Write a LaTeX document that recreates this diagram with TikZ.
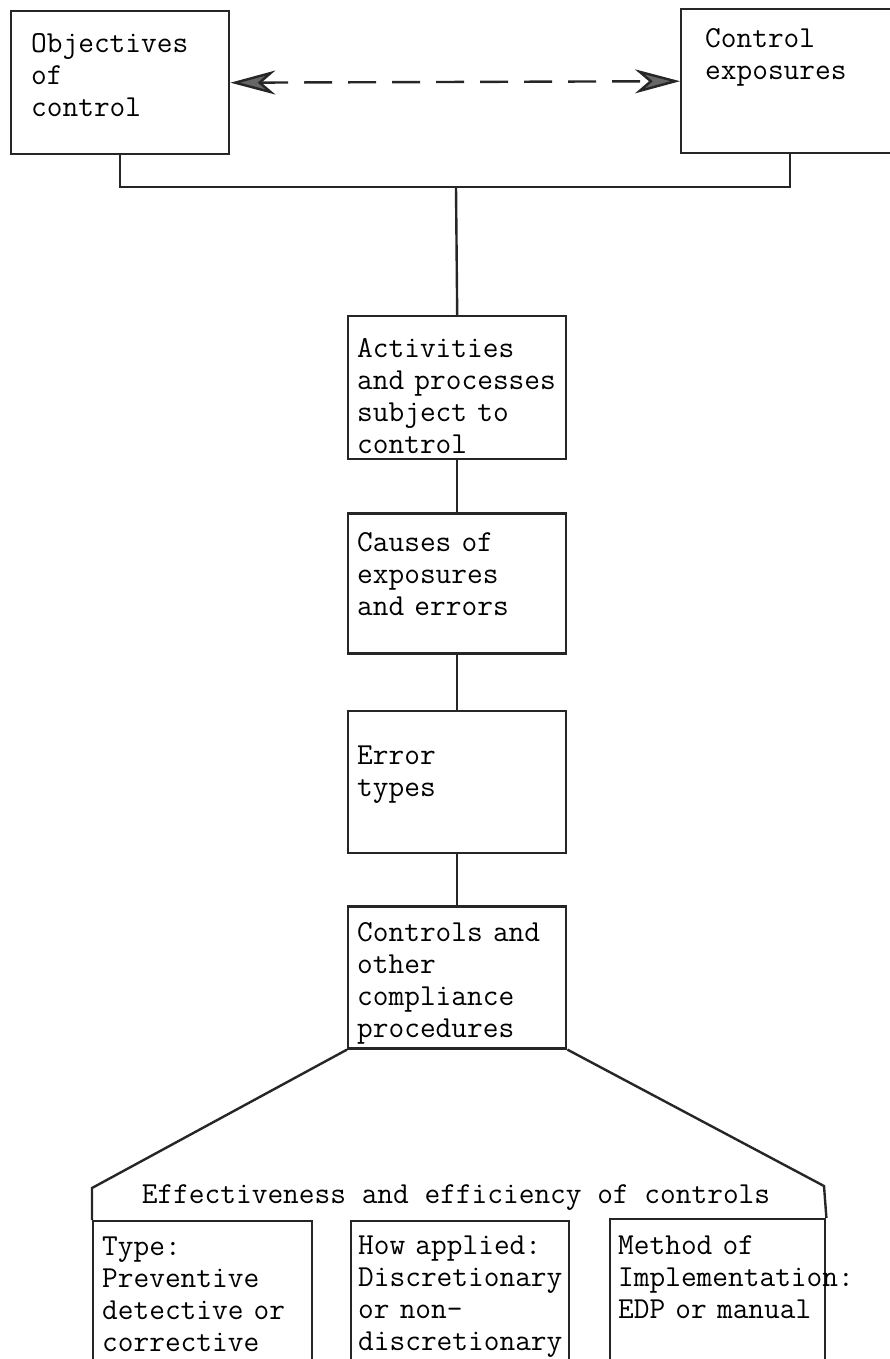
\documentclass[tikz,border=0pt]{standalone}
\usepackage{fontspec}
\usepackage{tikz}
\usetikzlibrary{arrows.meta,positioning}

\newcommand{\boxfont}{\ttfamily\fontsize{30.5}{32}\selectfont}

\begin{document}
\begin{tikzpicture}[
    x=1pt, y=-1pt,
    line width=2.4pt, draw=black!85,
    box/.style={draw, anchor=north west, inner ysep=0pt, align=left,
                font=\boxfont},
    link/.style={draw=black!85, line width=2.4pt},
  ]
  \useasboundingbox (0,0) rectangle (889,1359);

  % top row
  \node[box, inner xsep=20pt, text width=178pt, text height=41pt,
        text depth=102pt] (obj) at (10,10) {Objectives\\of\\control};
  \node[box, inner xsep=24pt, text width=170pt, text height=38pt,
        text depth=106pt] (exp) at (680,8) {Control\\exposures};

  \draw[link, dashed, dash pattern=on 28pt off 16pt,
        {Stealth[length=45pt, width=24pt, inset=14pt, fill=black!60]}-{Stealth[length=45pt, width=24pt, inset=14pt, fill=black!60]}]
    (obj.east) -- (exp.west);

  % middle chain
  \node[box, inner xsep=9pt, text width=200pt, text height=41pt,
        text depth=102pt] (act) at (347,315)
    {Activities\\and processes\\subject to\\control};
  \node[box, inner xsep=9pt, text width=200pt, text height=38pt,
        text depth=102pt, below=52pt of act] (cau)
    {Causes of\\exposures\\and errors};
  \node[box, inner xsep=9pt, text width=200pt, text height=53pt,
        text depth=89pt, below=55pt of cau] (err)
    {Error\\types};
  \node[box, inner xsep=9pt, text width=200pt, text height=35pt,
        text depth=107pt, below=51pt of err] (ctl)
    {Controls and\\other\\compliance\\procedures};

  \coordinate (join) at (456,187);
  \draw[link] (obj.south) |- (join) -| (exp.south);
  \draw[link] (join) -- (act.north);
  \draw[link] (act) -- (cau);
  \draw[link] (cau) -- (err);
  \draw[link] (err) -- (ctl);

  % bottom group
  \node[font=\boxfont, inner sep=0pt] (eff) at (456,1198)
    {Effectiveness and efficiency of controls};
  \node[box, inner xsep=9pt, text width=201pt, text height=34pt,
        text depth=130pt] (type) at (92,1220)
    {Type:\\Preventive\\detective or\\corrective};
  \node[box, inner xsep=7pt, text width=204pt, text height=33pt,
        text depth=130pt] (how) at (350,1220)
    {How applied:\\Discretionary\\or non-\\discretionary};
  \node[box, inner xsep=8pt, text width=199pt, text height=35pt,
        text depth=130pt] (meth) at (609,1218)
    {Method of\\Implementation:\\EDP or manual};

  \coordinate (tl) at (92,1188);
  \coordinate (tr) at (824,1186);
  \draw[link] (ctl.south west) -- (tl) -- (type.north west);
  \draw[link] (ctl.south east) -- (tr) -- (meth.north east);

\end{tikzpicture}
\end{document}
